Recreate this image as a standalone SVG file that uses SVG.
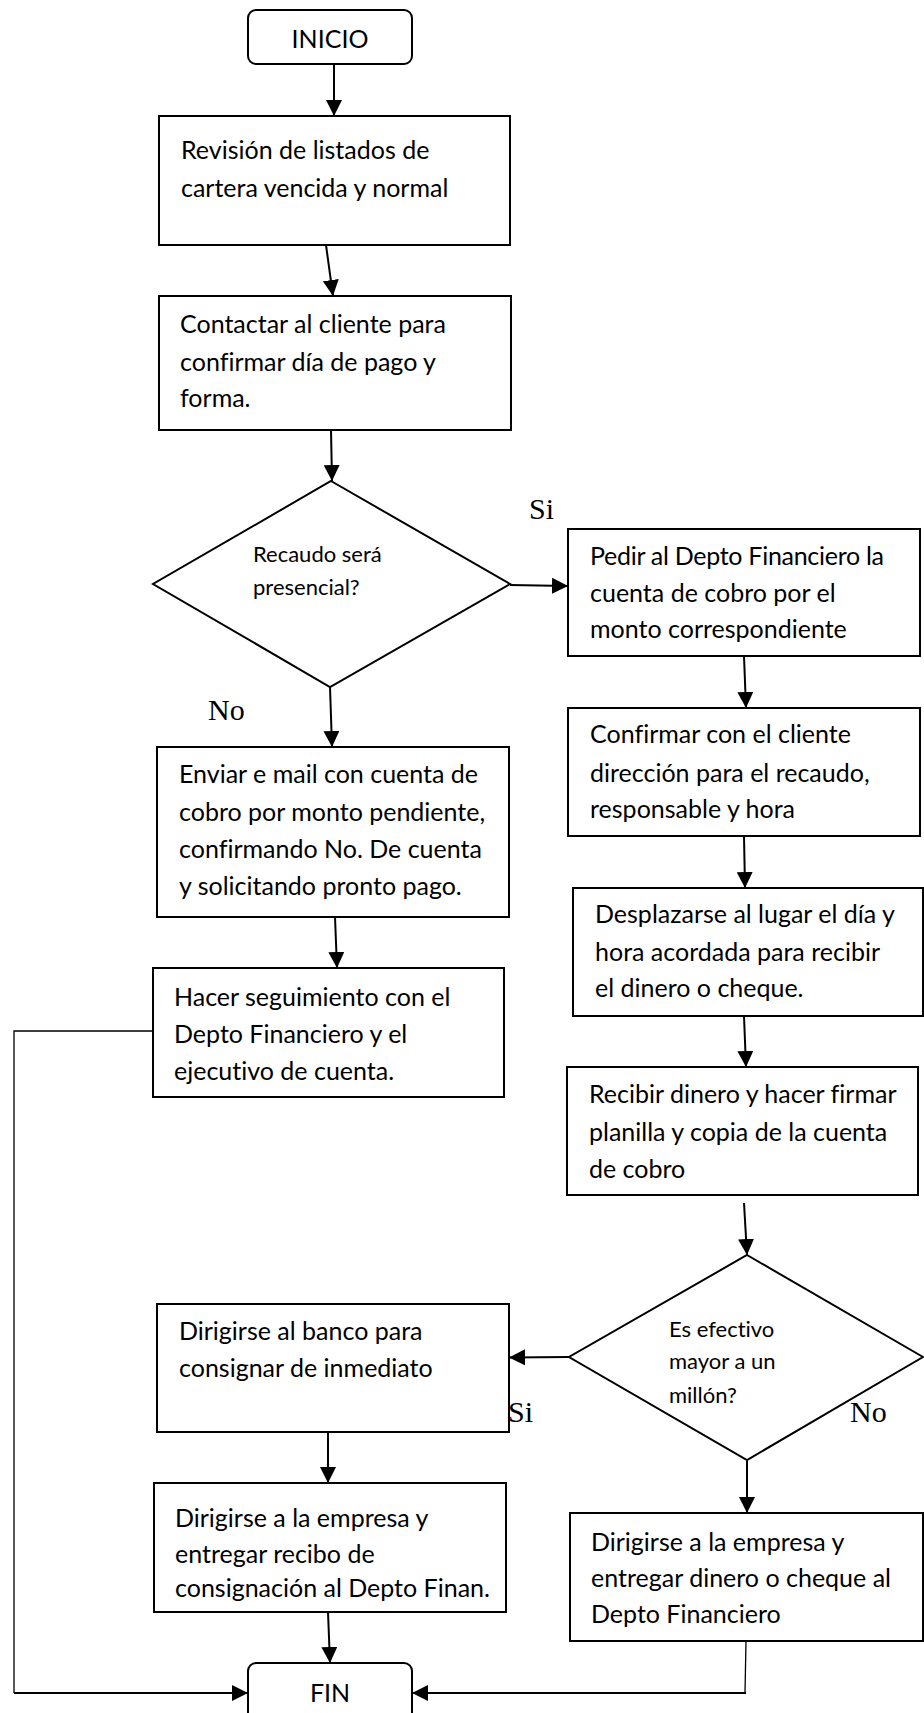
<svg xmlns="http://www.w3.org/2000/svg" width="924" height="1713" viewBox="0 0 924 1713">
  <style>
    .box { fill: #ffffff; stroke: #000000; stroke-width: 2; }
    .t { font-family: Lato, "Open Sans", sans-serif; font-size: 25px; fill: #000000; font-variant-ligatures: none; }
    .ts { font-family: Lato, "Open Sans", sans-serif; font-size: 22px; fill: #000000; font-variant-ligatures: none; }
    .lbl { font-family: "Liberation Serif", serif; font-size: 30px; fill: #000000; }
    .c { fill: none; stroke: #000000; stroke-width: 2; }
    .thin { fill: none; stroke: #000000; stroke-width: 1.3; }
  </style>
  <defs>
    <marker id="arrow" markerUnits="userSpaceOnUse" markerWidth="16" markerHeight="16" refX="16" refY="8" orient="auto">
      <path d="M0,0 L16,8 L0,16 z" fill="#000000"/>
    </marker>
  </defs>

  <rect width="924" height="1713" fill="#ffffff"/>

  <!-- connectors -->
  <g id="connectors">
    <line class="c" x1="334" y1="64" x2="334" y2="116" marker-end="url(#arrow)"/>
    <line class="c" x1="326" y1="245" x2="333" y2="296" marker-end="url(#arrow)"/>
    <line class="c" x1="331" y1="430" x2="332" y2="481" marker-end="url(#arrow)"/>
    <line class="c" x1="510" y1="585" x2="568" y2="586" marker-end="url(#arrow)"/>
    <line class="c" x1="744" y1="656" x2="746" y2="708" marker-end="url(#arrow)"/>
    <line class="c" x1="330" y1="687" x2="332" y2="747" marker-end="url(#arrow)"/>
    <line class="c" x1="335" y1="917" x2="337" y2="968" marker-end="url(#arrow)"/>
    <line class="c" x1="744" y1="836" x2="745" y2="888" marker-end="url(#arrow)"/>
    <line class="c" x1="744" y1="1016" x2="746" y2="1067" marker-end="url(#arrow)"/>
    <line class="c" x1="744" y1="1203" x2="747" y2="1255" marker-end="url(#arrow)"/>
    <line class="c" x1="569" y1="1357" x2="509" y2="1357.5" marker-end="url(#arrow)"/>
    <line class="c" x1="328" y1="1432" x2="328" y2="1483" marker-end="url(#arrow)"/>
    <line class="c" x1="328" y1="1612" x2="330" y2="1663" marker-end="url(#arrow)"/>
    <line class="c" x1="747" y1="1461" x2="747" y2="1513" marker-end="url(#arrow)"/>
    <polyline class="thin" points="160,1031 14,1031 14,1693"/>
    <line class="c" x1="14" y1="1693" x2="248" y2="1693" marker-end="url(#arrow)"/>
    <line class="thin" x1="746" y1="1641" x2="745" y2="1693"/>
    <line class="c" x1="746" y1="1693" x2="412" y2="1693" marker-end="url(#arrow)"/>
  </g>

  <!-- flow labels -->
  <g id="labels">
    <text class="lbl" x="529" y="519">Si</text>
    <text class="lbl" x="208" y="720">No</text>
    <text class="lbl" x="508" y="1422">Si</text>
    <text class="lbl" x="850" y="1422">No</text>
  </g>

  <g id="inicio">
    <rect class="box" x="248" y="10" width="164" height="54" rx="8"/>
    <text class="t" x="330" y="48" text-anchor="middle">INICIO</text>
  </g>

  <g id="revision">
    <rect class="box" x="159" y="116" width="351" height="129"/>
    <text class="t" x="181" y="159">Revisión de listados de</text>
    <text class="t" x="181" y="197">cartera vencida y normal</text>
  </g>

  <g id="contactar">
    <rect class="box" x="159" y="296" width="352" height="134"/>
    <text class="t" x="180" y="333">Contactar al cliente para</text>
    <text class="t" x="180" y="371">confirmar día de pago y</text>
    <text class="t" x="180" y="407">forma.</text>
  </g>

  <g id="presencial">
    <polygon class="box" points="331,481 510,584 330,687 153,584"/>
    <text class="ts" x="253" y="562">Recaudo será</text>
    <text class="ts" x="253" y="595">presencial?</text>
  </g>

  <g id="pedir">
    <rect class="box" x="568" y="529" width="352" height="127"/>
    <text class="t" x="590" y="565" textLength="294" lengthAdjust="spacing">Pedir al Depto Financiero la</text>
    <text class="t" x="590" y="602">cuenta de cobro por el</text>
    <text class="t" x="590" y="638">monto correspondiente</text>
  </g>

  <g id="confirmar">
    <rect class="box" x="568" y="708" width="352" height="128"/>
    <text class="t" x="590" y="743">Confirmar con el cliente</text>
    <text class="t" x="590" y="782">dirección para el recaudo,</text>
    <text class="t" x="590" y="818">responsable y hora</text>
  </g>

  <g id="enviar">
    <rect class="box" x="157" y="747" width="352" height="170"/>
    <text class="t" x="179" y="783">Enviar e mail con cuenta de</text>
    <text class="t" x="179" y="821">cobro por monto pendiente,</text>
    <text class="t" x="179" y="858">confirmando No. De cuenta</text>
    <text class="t" x="179" y="895">y solicitando pronto pago.</text>
  </g>

  <g id="seguimiento">
    <rect class="box" x="153" y="968" width="351" height="129"/>
    <text class="t" x="174" y="1006">Hacer seguimiento con el</text>
    <text class="t" x="174" y="1043">Depto Financiero y el</text>
    <text class="t" x="174" y="1080">ejecutivo de cuenta.</text>
  </g>

  <g id="desplazarse">
    <rect class="box" x="573" y="888" width="350" height="128"/>
    <text class="t" x="595" y="923">Desplazarse al lugar el día y</text>
    <text class="t" x="595" y="961">hora acordada para recibir</text>
    <text class="t" x="595" y="997">el dinero o cheque.</text>
  </g>

  <g id="recibir">
    <rect class="box" x="567" y="1067" width="351" height="128"/>
    <text class="t" x="589" y="1103">Recibir dinero y hacer firmar</text>
    <text class="t" x="589" y="1141">planilla y copia de la cuenta</text>
    <text class="t" x="589" y="1178">de cobro</text>
  </g>

  <g id="efectivo">
    <polygon class="box" points="747,1255 923,1357 747,1460 569,1357"/>
    <text class="ts" x="669" y="1337">Es efectivo</text>
    <text class="ts" x="669" y="1369">mayor a un</text>
    <text class="ts" x="669" y="1403">millón?</text>
  </g>

  <g id="banco">
    <rect class="box" x="157" y="1304" width="352" height="128"/>
    <text class="t" x="179" y="1340">Dirigirse al banco para</text>
    <text class="t" x="179" y="1377">consignar de inmediato</text>
  </g>

  <g id="recibo">
    <rect class="box" x="154" y="1483" width="352" height="129"/>
    <text class="t" x="175" y="1527">Dirigirse a la empresa y</text>
    <text class="t" x="175" y="1563">entregar recibo de</text>
    <text class="t" x="175" y="1597">consignación al Depto Finan.</text>
  </g>

  <g id="entregar">
    <rect class="box" x="570" y="1513" width="353" height="128"/>
    <text class="t" x="591" y="1551">Dirigirse a la empresa y</text>
    <text class="t" x="591" y="1587">entregar dinero o cheque al</text>
    <text class="t" x="591" y="1623">Depto Financiero</text>
  </g>

  <g id="fin">
    <rect class="box" x="248" y="1663" width="164" height="70" rx="8"/>
    <text class="t" x="330" y="1702" text-anchor="middle">FIN</text>
  </g>
</svg>
